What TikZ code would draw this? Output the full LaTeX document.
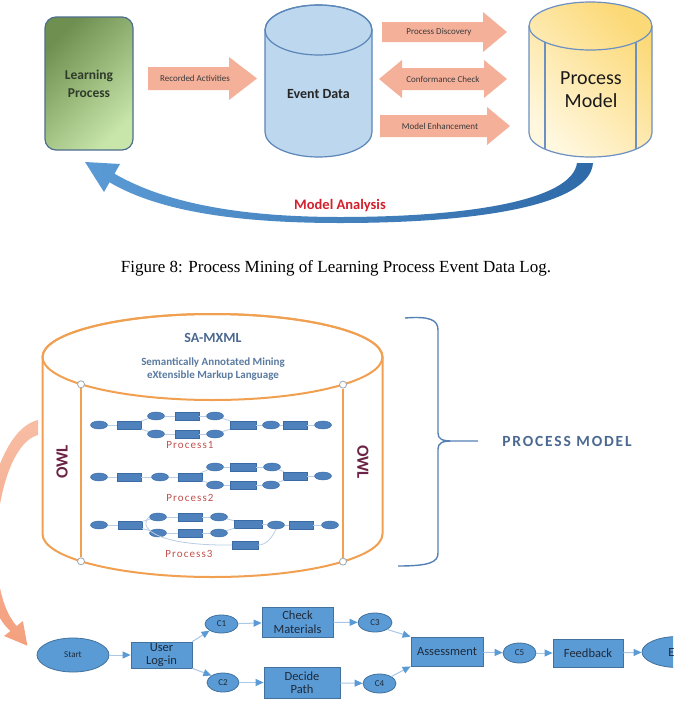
\documentclass[tikz,border=0pt]{standalone}
\usepackage{fontspec}
\setmainfont{Liberation Serif}
\newfontfamily\carl{Carlito}
\newfontfamily\carlsp[LetterSpace=10]{Carlito}
\newfontfamily\carlwide[LetterSpace=12]{Carlito}
\usetikzlibrary{arrows.meta,shapes.geometric}
\definecolor{lpdark}{HTML}{6E8F4F}
\definecolor{lplight}{HTML}{C8E6AA}
\definecolor{lpborder}{HTML}{4E6E8E}
\definecolor{lptext}{HTML}{2E3B2A}
\definecolor{edfill}{HTML}{BDD7EE}
\definecolor{edborder}{HTML}{5A86B8}
\definecolor{pmtop}{HTML}{FCD977}
\definecolor{pmbot}{HTML}{FFF7DE}
\definecolor{pmborder}{HTML}{6C90C0}
\definecolor{salmon}{HTML}{F5B09A}
\definecolor{arrowtext}{HTML}{3A3A3A}
\definecolor{maBlueL}{HTML}{5B9BD5}
\definecolor{maBlueD}{HTML}{2E6AA8}
\definecolor{maRed}{HTML}{D4202C}
\definecolor{cylOrange}{HTML}{F0A050}
\definecolor{owl}{HTML}{6B2346}
\definecolor{slate}{HTML}{4A6890}
\definecolor{slatelt}{HTML}{5A7AA0}
\definecolor{miniblue}{HTML}{4F81BD}
\definecolor{miniborder}{HTML}{3A6BA5}
\definecolor{minilink}{HTML}{B9CDE5}
\definecolor{procred}{HTML}{C0504D}
\definecolor{flowfill}{HTML}{5B9BD5}
\definecolor{flowborder}{HTML}{41719C}
\definecolor{flowlink}{HTML}{A9C8E8}
\definecolor{flowtext}{HTML}{1E2A3A}
\definecolor{bracecol}{HTML}{5580B5}
\definecolor{orangeA}{HTML}{F4A07E}
\definecolor{orangeB}{HTML}{F7BDA4}
\definecolor{knob}{HTML}{9AA8B0}
\begin{document}
\begin{tikzpicture}[x=1pt,y=-1pt,
 lbl/.style={font=\carl\fontsize{9}{10}\selectfont, text=arrowtext, inner sep=0pt},
 me/.style={ellipse, fill=miniblue, draw=miniborder, line width=0.4pt, minimum width=17pt, minimum height=8pt, inner sep=0pt},
 mr/.style={rectangle, fill=miniblue, draw=miniborder, line width=0.4pt, minimum width=24pt, minimum height=8pt, inner sep=0pt},
 mlink/.style={draw=minilink, line width=0.8pt},
 fe/.style={ellipse, fill=flowfill, draw=flowborder, line width=0.8pt, inner sep=0pt, text=flowtext, font=\carl\fontsize{9}{10}\selectfont},
 fr/.style={rectangle, fill=flowfill, draw=flowborder, line width=0.8pt, inner sep=0pt, text=flowtext, align=center, font=\carl\fontsize{12.5}{13.5}\selectfont},
 flink/.style={draw=flowlink, line width=1pt, -{Triangle[length=8pt,width=7pt,color=flowfill]}},
 knobst/.style={circle, fill=white, draw=knob, line width=0.8pt, minimum size=7pt, inner sep=0pt},
 procl/.style={font=\carlsp\fontsize{11}{12}\selectfont, text=procred, inner sep=0pt},
]
\useasboundingbox (0,0) rectangle (673,705);
\fill[white] (0,0) rectangle (673,705);
\clip (0,0) rectangle (673,705);

%% ---------- top figure ----------
\node[draw=lpborder, line width=1.2pt, rounded corners=11pt, top color=lpdark, bottom color=lplight, shading angle=45,
      minimum width=88pt, minimum height=133pt, inner sep=0pt, align=center, text=lptext,
      font=\carl\bfseries\fontsize{13.5}{18}\selectfont] (lp) at (89,83.5) {Learning\\Process};

% recorded activities arrow
\fill[salmon] (148,67) -- (229,67) -- (229,57) -- (257,78.5) -- (229,100) -- (229,90) -- (148,90) -- cycle;
\node[lbl] (ra) at (195,78.5) {Recorded Activities};

% event data cylinder
\path[fill=edfill, draw=edborder, line width=1.2pt] (265,30) -- (265,132)
   arc[start angle=180,end angle=360,x radius=53.5pt,y radius=25pt] -- (372,30)
   arc[start angle=0,end angle=180,x radius=53.5pt,y radius=25pt] -- cycle;
\draw[edborder, line width=1.2pt] (318.5,30) ellipse[x radius=53.5pt, y radius=25pt];
\node[font=\carl\bfseries\fontsize{14}{16}\selectfont, text=black!85] (ed) at (318.5,94) {Event Data};

% three arrows
\fill[salmon] (382,22) -- (483,22) -- (483,12) -- (507,32) -- (483,52) -- (483,42) -- (382,42) -- cycle;
\node[lbl] (pd) at (439,32) {Process Discovery};
\fill[salmon] (379,79) -- (402,60) -- (402,68) -- (484,68) -- (484,60) -- (507,79) -- (484,98) -- (484,90) -- (402,90) -- (402,98) -- cycle;
\node[lbl] (cc) at (443,79) {Conformance Check};
\fill[salmon] (380,115) -- (487,115) -- (487,107) -- (510,126) -- (487,145) -- (487,137) -- (380,137) -- cycle;
\node[lbl] (me) at (440,126) {Model Enhancement};

% process model cylinder
\shade[top color=pmtop, bottom color=pmbot, shading angle=-45] (529,26) -- (529,133)
   arc[start angle=180,end angle=360,x radius=61.5pt,y radius=24pt] -- (652,26)
   arc[start angle=0,end angle=180,x radius=61.5pt,y radius=24pt] -- cycle;
\draw[pmborder, line width=1.2pt] (529,26) -- (529,133)
   arc[start angle=180,end angle=360,x radius=61.5pt,y radius=24pt] -- (652,26);
\draw[pmborder, line width=1.2pt] (590.5,26) ellipse[x radius=61.5pt, y radius=24pt];
\draw[pmborder, line width=1.2pt] (545,42) -- (545,149);
\draw[pmborder, line width=1.2pt] (636,42) -- (636,149);
\node[font=\carl\fontsize{20}{23}\selectfont, align=center, text=black!90] (pm) at (591,90) {Process\\Model};

% model analysis arrow
\shade[left color=maBlueL, right color=maBlueD]
  (593,163) .. controls (590,205) and (480,223) .. (340,223)
  .. controls (240,223) and (160,212) .. (109.5,182.3) -- (104,192) -- (85,162) -- (120,164) -- (114.5,173.7)
  .. controls (165,203) and (240,217) .. (340,217)
  .. controls (470,217) and (572,200) .. (577,163) -- cycle;
\node[font=\carl\bfseries\fontsize{14.5}{16}\selectfont, text=maRed] (ma) at (340,206) {Model Analysis};

% caption
\node[font=\fontsize{17}{19}\selectfont] (cap) at (336,268) {Figure 8: Process Mining of Learning Process Event Data Log.};

%% ---------- bottom figure ----------
% orange curved arrow
\shade[top color=orangeB, bottom color=orangeA]
  (38,420) .. controls (-14,432) and (-36,590) .. (10.4,631) -- (4.1,636) -- (27.4,645.7) -- (22.9,621) -- (16.6,626)
  .. controls (-20,585) and (-4,446) .. (38,435) -- cycle;

% big cylinder
\path[fill=white, draw=cylOrange, line width=2pt] (42.5,357) -- (42.5,534)
   arc[start angle=180,end angle=360,x radius=170pt,y radius=43pt] -- (382.5,357)
   arc[start angle=0,end angle=180,x radius=170pt,y radius=43pt] -- cycle;
\draw[cylOrange, line width=2pt] (212.5,357) ellipse[x radius=170pt, y radius=43pt];
\node[knobst] (k1) at (81,384.3) {};
\node[knobst] (k2) at (343,384.6) {};
\node[knobst] (k3) at (81,561.3) {};
\node[knobst] (k4) at (343,561.6) {};
\draw[cylOrange, line width=2pt] (k1) -- (k3);
\draw[cylOrange, line width=2pt] (k2) -- (k4);

\node[font=\carl\bfseries\fontsize{14}{16}\selectfont, text=slate] (sa) at (213,338) {SA-MXML};
\node[font=\carl\bfseries\fontsize{11}{12.5}\selectfont, text=slatelt, align=center] (sad) at (213,369) {Semantically Annotated Mining\\eXtensible Markup Language};

\node[font=\carl\bfseries\fontsize{17}{17}\selectfont, text=owl, rotate=90] (owlL) at (62,462) {OWL};
\node[font=\carl\bfseries\fontsize{17}{17}\selectfont, text=owl, rotate=-90] (owlR) at (363,462) {OWL};

% process 1
\node[me] (a1) at (99,425) {};
\node[mr] (a2) at (129,425) {};
\node[me] (a3) at (156,416) {};
\node[me] (a4) at (156,434) {};
\node[mr] (a5) at (187,416) {};
\node[mr] (a6) at (187,434) {};
\node[me] (a7) at (215,416) {};
\node[me] (a8) at (215,434) {};
\node[mr, minimum width=26pt] (a9) at (243,425) {};
\node[me] (a10) at (271,425) {};
\node[mr] (a11) at (295,425) {};
\node[me] (a12) at (323,425) {};
\foreach \u/\v in {a1/a2,a2/a3,a2/a4,a3/a5,a4/a6,a5/a7,a6/a8,a7/a9,a8/a9,a9/a10,a10/a11,a11/a12}
  \draw[mlink] (\u) -- (\v);
\node[procl] (p1) at (190,445) {Process1};

% process 2
\node[me] (b1) at (99,477) {};
\node[mr] (b2) at (129,477) {};
\node[me] (b3) at (160,477) {};
\node[mr] (b4) at (190,477) {};
\node[me] (b5) at (215,467) {};
\node[me] (b6) at (215,485) {};
\node[mr, minimum width=26pt] (b7) at (243,467) {};
\node[mr, minimum width=26pt] (b8) at (243,485) {};
\node[me] (b9) at (272,467) {};
\node[me] (b10) at (271,485) {};
\node[mr] (b11) at (295,476) {};
\node[me] (b12) at (323,476) {};
\foreach \u/\v in {b1/b2,b2/b3,b3/b4,b4/b5,b4/b6,b5/b7,b6/b8,b7/b9,b8/b10,b9/b11,b10/b11,b11/b12}
  \draw[mlink] (\u) -- (\v);
\node[procl] (p2) at (190,498) {Process2};

% process 3
\node[me] (c1) at (99,525) {};
\node[mr] (c2) at (130,525) {};
\node[me] (c3) at (158,517) {};
\node[me] (c4) at (158,533) {};
\node[mr] (c5) at (190,517) {};
\node[mr] (c6) at (190,533) {};
\node[me] (c7) at (219,517) {};
\node[me] (c8) at (219,533) {};
\node[mr, minimum width=28pt] (c9) at (248,524) {};
\node[me] (c10) at (276,525) {};
\node[mr] (c11) at (301,525) {};
\node[me] (c12) at (330,525) {};
\node[mr, minimum width=26pt] (c13) at (245,545) {};
\foreach \u/\v in {c1/c2,c2/c3,c2/c4,c3/c5,c4/c6,c5/c7,c6/c8,c7/c9,c8/c9,c9/c10,c10/c11,c11/c12}
  \draw[mlink] (\u) -- (\v);
\draw[mlink] (c3.west) .. controls (138,525) and (150,546) .. (c13.west);
\draw[mlink] (c13.east) .. controls (266,545) and (272,538) .. (c10.south);
\node[procl] (p3) at (189,554) {Process3};

% brace
\draw[bracecol, line width=1.4pt] (405,318) .. controls (430,316) and (438,320) .. (438,330)
  -- (438,433) .. controls (438,439) and (442,441) .. (452,441) -- (478,441)
  -- (452,441) .. controls (442,441) and (438,443) .. (438,449)
  -- (438,553) .. controls (438,562) and (430,566) .. (398,566);
\node[font=\carlwide\bfseries\fontsize{15.5}{16}\selectfont, text=slate] (pmodel) at (567,441) {PROCESS MODEL};

% bottom flow
\node[fe, minimum width=72pt, minimum height=34pt] (start) at (73,655) {Start};
\node[fr, minimum width=61pt, minimum height=26pt] (user) at (161.5,655) {User\\Log-in};
\node[fe, minimum width=33pt, minimum height=18pt] (cc1) at (221.5,624) {C1};
\node[fe, minimum width=32pt, minimum height=19pt] (cc2) at (223,682.5) {C2};
\node[fr, minimum width=71pt, minimum height=30pt] (check) at (297.5,622) {Check\\Materials};
\node[fr, minimum width=76pt, minimum height=31pt] (decide) at (302,682.5) {Decide\\Path};
\node[fe, minimum width=34pt, minimum height=19pt] (cc3) at (375,622.5) {C3};
\node[fe, minimum width=33pt, minimum height=19pt] (cc4) at (379.5,683.5) {C4};
\node[fr, minimum width=72pt, minimum height=29pt] (assess) at (447,651.5) {Assessment};
\node[fe, minimum width=33pt, minimum height=20pt] (cc5) at (519.5,653) {C5};
\node[fr, minimum width=70pt, minimum height=28pt] (feed) at (588,653) {Feedback};
\node[fe, minimum width=72pt, minimum height=31pt, font=\carl\fontsize{12.5}{13.5}\selectfont] (end) at (678,652) {End};

\draw[flink] (start) -- (user);
\draw[flink] (user.north east) -- (cc1.south west);
\draw[flink] (user.south east) -- (cc2.north west);
\draw[flink] (cc1) -- (check);
\draw[flink] (cc2) -- (decide);
\draw[flink] (check) -- (cc3);
\draw[flink] (decide) -- (cc4);
\draw[flink] (cc3.south east) -- (assess.north west);
\draw[flink] (cc4.north east) -- (assess.south west);
\draw[flink] (assess) -- (cc5);
\draw[flink] (cc5) -- (feed);
\draw[flink] (feed) -- (end);
\end{tikzpicture}
\end{document}
